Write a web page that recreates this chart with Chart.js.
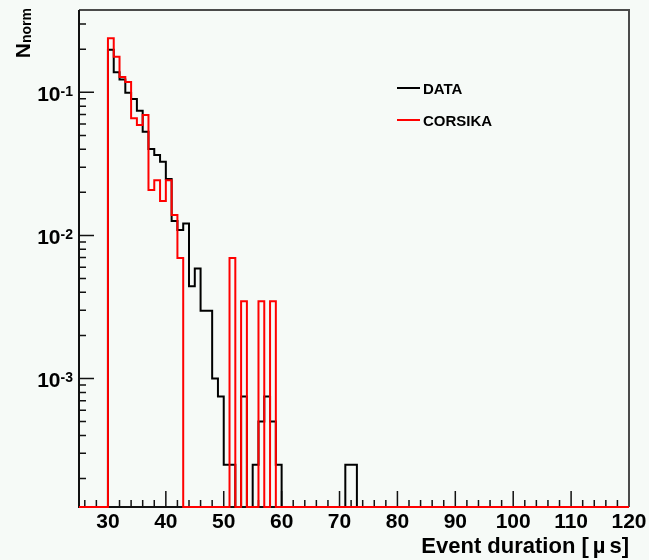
<!DOCTYPE html>
<html>
<head>
<meta charset="utf-8">
<script src="https://cdn.jsdelivr.net/npm/chart.js@4.4.0/dist/chart.umd.min.js"></script>
<style>
  html, body { margin: 0; padding: 0; background: #f6faf7; }
  canvas { display: block; }
</style>
</head>
<body>
<canvas id="c" width="649" height="560"></canvas>
<script>
// event duration histograms, 1 µs bins, first filled bin starts at 30 µs
const FIRST_BIN = 30;
const dataNorm = [
  0.198, 0.138, 0.123, 0.0994, 0.0898, 0.0743, 0.0530, 0.0401, 0.0364, 0.0327,
  0.0248, 0.0126, 0.0109, 0.0121, 0.00442, 0.00587, 0.00297, 0.00297, 0.00100, 0.00075,
  0.00025, 0.00025, 0, 0.00075, 0, 0.00025, 0.00050, 0.00075, 0.00050, 0.00025,
  0, 0, 0, 0, 0, 0, 0, 0, 0, 0,
  0, 0.00025, 0.00025
];
const corsikaNorm = [
  0.239, 0.177, 0.128, 0.118, 0.0659, 0.0590, 0.0694, 0.0208, 0.0243, 0.0174,
  0.0243, 0.0139, 0.00694, 0, 0, 0, 0, 0, 0, 0,
  0, 0.00694, 0, 0.00347, 0, 0, 0.00347, 0, 0.00347
];
const xTickLabels = [30, 40, 50, 60, 70, 80, 90, 100, 110, 120];
const yTickExps = [-3, -2, -1];
const X_MIN = 25, X_MAX = 120;
const Y_MIN = 1.265e-4, Y_MAX = 0.376;
const FONT = '"Liberation Sans", Arial, Helvetica, sans-serif';

// bin edges -> stepped line points, empty bins sit on the frame bottom
function toSteps(vals) {
  const pts = [];
  for (let x = X_MIN; x < X_MAX; x++) {
    const i = x - FIRST_BIN;
    const v = (i >= 0 && i < vals.length && vals[i] > 0) ? vals[i] : Y_MIN;
    pts.push({ x, y: v });
  }
  pts.push({ x: X_MAX, y: pts[pts.length - 1].y });
  return pts;
}

const rootAxes = {
  id: 'rootAxes',
  beforeDatasetsDraw(chart) {
    const { ctx, chartArea: a, scales: { x, y } } = chart;
    ctx.save();
    ctx.lineCap = 'butt';
    // top/right frame
    ctx.strokeStyle = '#4a4a4a'; ctx.lineWidth = 2;
    ctx.beginPath(); ctx.moveTo(a.left, a.top); ctx.lineTo(a.right, a.top); ctx.lineTo(a.right, a.bottom); ctx.stroke();
    // axes
    ctx.strokeStyle = '#111';
    ctx.beginPath(); ctx.moveTo(a.left, a.top); ctx.lineTo(a.left, a.bottom); ctx.lineTo(a.right, a.bottom); ctx.stroke();
    // x ticks (inward)
    ctx.lineWidth = 1.5;
    ctx.beginPath();
    for (let v = 26; v < X_MAX; v += 2) {
      const px = x.getPixelForValue(v);
      const len = v % 10 === 0 ? 16 : 7;
      ctx.moveTo(px, a.bottom); ctx.lineTo(px, a.bottom - len);
    }
    // y ticks (inward), decades + 2..9
    for (let e = -4; e <= 0; e++) {
      for (let k = 1; k <= 9; k++) {
        const v = k * Math.pow(10, e);
        if (v <= Y_MIN || v >= Y_MAX) continue;
        const py = y.getPixelForValue(v);
        const len = k === 1 ? 15 : 7;
        ctx.moveTo(a.left, py); ctx.lineTo(a.left + len, py);
      }
    }
    ctx.stroke();
    ctx.restore();
  },
  afterDraw(chart) {
    const { ctx, chartArea: a, scales: { x, y } } = chart;
    ctx.save();
    ctx.fillStyle = '#000';
    // x tick labels
    ctx.font = 'bold 21px ' + FONT;
    ctx.textAlign = 'center'; ctx.textBaseline = 'alphabetic';
    xTickLabels.forEach(v => ctx.fillText(String(v), x.getPixelForValue(v), 528));
    // y tick labels 10^n
    yTickExps.forEach(e => {
      const py = y.getPixelForValue(Math.pow(10, e));
      ctx.textAlign = 'right';
      ctx.font = 'bold 14px ' + FONT;
      const ex = String(e);
      const w = ctx.measureText(ex).width;
      ctx.fillText(ex, a.left - 6, py + 3.7);
      ctx.font = 'bold 21px ' + FONT;
      ctx.fillText('10', a.left - 6 - w, py + 8.7);
    });
    // x title, ROOT spaces the mu out a little
    ctx.font = 'bold 22px ' + FONT;
    ctx.textAlign = 'left';
    const parts = ['Event duration [', 'µ', 's]'];
    const gap = 4;
    const ws = parts.map(p => ctx.measureText(p).width);
    let tx = a.right - (ws[0] + ws[1] + ws[2] + 2 * gap);
    ctx.fillText(parts[0], tx, 553); tx += ws[0] + gap;
    ctx.fillText(parts[1], tx, 553); tx += ws[1] + gap;
    ctx.fillText(parts[2], tx, 553);
    // y title N_norm, rotated
    ctx.font = 'bold 21px ' + FONT;
    const wN = ctx.measureText('N').width;
    ctx.font = 'bold 14px ' + FONT;
    const wSub = ctx.measureText('norm').width;
    ctx.translate(30, 8 + wN + wSub);
    ctx.rotate(-Math.PI / 2);
    ctx.font = 'bold 21px ' + FONT;
    ctx.fillText('N', 0, 0);
    ctx.font = 'bold 14px ' + FONT;
    ctx.fillText('norm', wN, 1);
    ctx.restore();

    // legend
    ctx.save();
    ctx.lineWidth = 2;
    ctx.font = 'bold 15px ' + FONT;
    ctx.textAlign = 'left';
    [['DATA', '#000000', 88], ['CORSIKA', '#ff0000', 120]].forEach(([label, col, ly]) => {
      ctx.strokeStyle = col;
      ctx.beginPath(); ctx.moveTo(397, ly); ctx.lineTo(420, ly); ctx.stroke();
      ctx.fillStyle = '#000';
      ctx.fillText(label, 423, ly + 6);
    });
    ctx.restore();
  }
};

new Chart(document.getElementById('c'), {
  type: 'line',
  data: {
    datasets: [
      { label: 'DATA', data: toSteps(dataNorm), borderColor: '#000000', borderWidth: 2, stepped: true, pointRadius: 0, order: 1, clip: false },
      { label: 'CORSIKA', data: toSteps(corsikaNorm), borderColor: '#ff0000', borderWidth: 2, stepped: true, pointRadius: 0, order: 0, clip: false }
    ]
  },
  options: {
    responsive: false,
    animation: false,
    layout: { padding: { left: 79, top: 10, right: 20, bottom: 53 } },
    plugins: { legend: { display: false }, tooltip: { enabled: false } },
    scales: {
      x: { type: 'linear', min: X_MIN, max: X_MAX, display: false },
      y: { type: 'logarithmic', min: Y_MIN, max: Y_MAX, display: false }
    }
  },
  plugins: [rootAxes]
});
</script>
</body>
</html>
